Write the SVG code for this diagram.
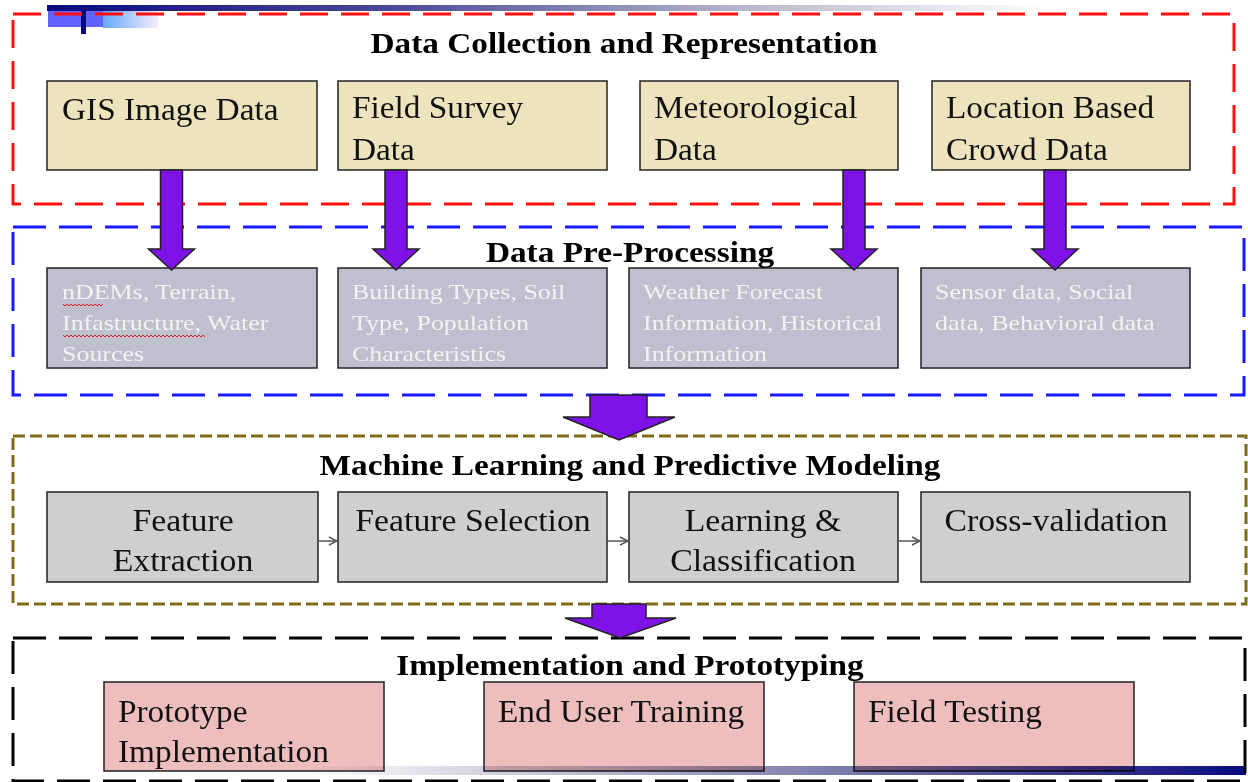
<svg xmlns="http://www.w3.org/2000/svg" width="1248" height="782" viewBox="0 0 1248 782">
<defs>
<style>
.title{font-family:"Liberation Serif","Times New Roman",serif;font-weight:bold;font-size:30px;fill:#000;text-anchor:middle}
.t1{font-family:"Liberation Serif","Times New Roman",serif;font-size:31px;fill:#111}
.t2{font-family:"Liberation Serif","Times New Roman",serif;font-size:22px;fill:#f2f2f2}
.t3{font-family:"Liberation Serif","Times New Roman",serif;font-size:31px;fill:#111;text-anchor:middle}
.tan{fill:#ede3bd;stroke:#222;stroke-width:1.5}
.gp{fill:#bfbfcf;stroke:#222;stroke-width:1.5}
.gr{fill:#cfcfcf;stroke:#222;stroke-width:1.5}
.pk{fill:#eebdbd;stroke:#222;stroke-width:1.5}
.parrow{fill:#7f12e6;stroke:#222;stroke-width:1.5;stroke-linejoin:miter}
.small{fill:none;stroke:#555;stroke-width:1.5}
.squig{fill:none;stroke:#e02020;stroke-width:1}
</style>
<linearGradient id="topbar" x1="0" y1="0" x2="1" y2="0">
<stop offset="0" stop-color="#0a0a80"/>
<stop offset="0.35" stop-color="#4a4a98"/>
<stop offset="0.7" stop-color="#b8b8cc"/>
<stop offset="1" stop-color="#ffffff"/>
</linearGradient>
<linearGradient id="lightblue" x1="0" y1="0" x2="1" y2="0">
<stop offset="0" stop-color="#66a8ff"/>
<stop offset="1" stop-color="#f4eef8"/>
</linearGradient>
<linearGradient id="botbar" x1="0" y1="0" x2="1" y2="0">
<stop offset="0" stop-color="#ffffff"/>
<stop offset="0.35" stop-color="#b0b0c8"/>
<stop offset="0.7" stop-color="#5a5a9a"/>
<stop offset="1" stop-color="#0a0a80"/>
</linearGradient>
<marker id="open" markerWidth="10" markerHeight="10" refX="9" refY="5" orient="auto" markerUnits="userSpaceOnUse">
<path d="M1,1 L9,5 L1,9" fill="none" stroke="#555" stroke-width="1.5"/>
</marker>
</defs>
<rect width="1248" height="782" fill="#fff"/>

<g id="header-deco">
<rect x="47" y="5" width="1000" height="6" fill="url(#topbar)"/>
<rect x="48" y="11" width="55" height="16" fill="#6262ff"/>
<rect x="103" y="11" width="55" height="17" fill="url(#lightblue)"/>
<rect x="81" y="10" width="5" height="24" fill="#0a0a80"/>
</g>

<g id="sections" fill="none">
<rect id="sec-collection" x="13" y="14" width="1221" height="190" stroke="#ff1010" stroke-width="3" stroke-dasharray="28 13"/>
<rect id="sec-preprocessing" x="13" y="227" width="1231" height="168" stroke="#1a1aff" stroke-width="3" stroke-dasharray="33 13"/>
<rect id="sec-ml" x="13" y="436" width="1233" height="168" stroke="#806a18" stroke-width="3" stroke-dasharray="12 5"/>
<rect id="sec-impl" x="13" y="638" width="1232" height="143" stroke="#000" stroke-width="3" stroke-dasharray="33 13"/>
</g>

<g id="titles">
<text class="title" transform="matrix(1.11 0 0 1 624 53)">Data Collection and Representation</text>
<text class="title" transform="matrix(1.11 0 0 1 630 262)">Data Pre-Processing</text>
<text class="title" transform="matrix(1.11 0 0 1 630 475)">Machine Learning and Predictive Modeling</text>
<text class="title" transform="matrix(1.11 0 0 1 630 675)">Implementation and Prototyping</text>
</g>

<g id="gis-image-data"><rect class="tan" x="47" y="81" width="270" height="89"/><text class="t1" transform="matrix(1.075 0 0 1 62 120)">GIS Image Data</text></g>
<g id="field-survey-data"><rect class="tan" x="338" y="81" width="269" height="89"/><text class="t1" transform="matrix(1.075 0 0 1 352 118)">Field Survey</text><text class="t1" transform="matrix(1.075 0 0 1 352 160)">Data</text></g>
<g id="meteorological-data"><rect class="tan" x="640" y="81" width="258" height="89"/><text class="t1" transform="matrix(1.075 0 0 1 654 118)">Meteorological</text><text class="t1" transform="matrix(1.075 0 0 1 654 160)">Data</text></g>
<g id="location-crowd-data"><rect class="tan" x="932" y="81" width="258" height="89"/><text class="t1" transform="matrix(1.075 0 0 1 946 118)">Location Based</text><text class="t1" transform="matrix(1.075 0 0 1 946 160)">Crowd Data</text></g>

<g id="ndems"><rect class="gp" x="47" y="268" width="270" height="100"/>
<text class="t2" transform="matrix(1.18 0 0 1 62 299)">nDEMs, Terrain,</text>
<text class="t2" transform="matrix(1.18 0 0 1 62 330)">Infastructure, Water</text>
<text class="t2" transform="matrix(1.18 0 0 1 62 361)">Sources</text>
<path class="squig" d="M63,304 l2,2 l2,-2 l2,2 l2,-2 l2,2 l2,-2 l2,2 l2,-2 l2,2 l2,-2 l2,2 l2,-2 l2,2 l2,-2 l2,2 l2,-2 l2,2 l2,-2 l2,2 l2,-2"/>
<path class="squig" d="M63,335 l2,2 l2,-2 l2,2 l2,-2 l2,2 l2,-2 l2,2 l2,-2 l2,2 l2,-2 l2,2 l2,-2 l2,2 l2,-2 l2,2 l2,-2 l2,2 l2,-2 l2,2 l2,-2 l2,2 l2,-2 l2,2 l2,-2 l2,2 l2,-2 l2,2 l2,-2 l2,2 l2,-2 l2,2 l2,-2 l2,2 l2,-2 l2,2 l2,-2 l2,2 l2,-2 l2,2 l2,-2 l2,2 l2,-2 l2,2 l2,-2 l2,2 l2,-2 l2,2 l2,-2 l2,2 l2,-2 l2,2 l2,-2 l2,2 l2,-2 l2,2 l2,-2 l2,2 l2,-2 l2,2 l2,-2 l2,2 l2,-2 l2,2 l2,-2 l2,2 l2,-2 l2,2 l2,-2 l2,2 l2,-2 l2,2"/>
</g>
<g id="building-types"><rect class="gp" x="338" y="268" width="269" height="100"/>
<text class="t2" transform="matrix(1.18 0 0 1 352 299)">Building Types, Soil</text>
<text class="t2" transform="matrix(1.18 0 0 1 352 330)">Type, Population</text>
<text class="t2" transform="matrix(1.18 0 0 1 352 361)">Characteristics</text></g>
<g id="weather-forecast"><rect class="gp" x="629" y="268" width="269" height="100"/>
<text class="t2" transform="matrix(1.18 0 0 1 643 299)">Weather Forecast</text>
<text class="t2" transform="matrix(1.18 0 0 1 643 330)">Information, Historical</text>
<text class="t2" transform="matrix(1.18 0 0 1 643 361)">Information</text></g>
<g id="sensor-data"><rect class="gp" x="921" y="268" width="269" height="100"/>
<text class="t2" transform="matrix(1.18 0 0 1 935 299)">Sensor data, Social</text>
<text class="t2" transform="matrix(1.18 0 0 1 935 330)">data, Behavioral data</text></g>

<g id="feature-extraction"><rect class="gr" x="47" y="492" width="271" height="90"/><text class="t3" transform="matrix(1.09 0 0 1 183 531)">Feature</text><text class="t3" transform="matrix(1.09 0 0 1 183 571)">Extraction</text></g>
<g id="feature-selection"><rect class="gr" x="338" y="492" width="269" height="90"/><text class="t3" transform="matrix(1.09 0 0 1 473 531)">Feature Selection</text></g>
<g id="learning-classification"><rect class="gr" x="629" y="492" width="269" height="90"/><text class="t3" transform="matrix(1.09 0 0 1 763 531)">Learning &amp;</text><text class="t3" transform="matrix(1.09 0 0 1 763 571)">Classification</text></g>
<g id="cross-validation"><rect class="gr" x="921" y="492" width="269" height="90"/><text class="t3" transform="matrix(1.09 0 0 1 1056 531)">Cross-validation</text></g>

<g id="prototype-implementation"><rect class="pk" x="104" y="682" width="280" height="89"/><text class="t1" transform="matrix(1.075 0 0 1 118 722)">Prototype</text><text class="t1" transform="matrix(1.075 0 0 1 118 762)">Implementation</text></g>
<g id="end-user-training"><rect class="pk" x="484" y="682" width="280" height="89"/><text class="t1" transform="matrix(1.075 0 0 1 498 722)">End User Training</text></g>
<g id="field-testing"><rect class="pk" x="854" y="682" width="280" height="89"/><text class="t1" transform="matrix(1.075 0 0 1 868 722)">Field Testing</text></g>

<g id="footer-deco">
<rect x="300" y="766" width="946" height="9" fill="url(#botbar)" style="mix-blend-mode:multiply"/>
</g>

<g id="connectors">
<polygon class="parrow" points="160.5,170 182.5,170 182.5,249 194.5,249 171.5,270 148.5,249 160.5,249"/>
<polygon class="parrow" points="385,170 407,170 407,249 419,249 396,270 373,249 385,249"/>
<polygon class="parrow" points="843,170 865,170 865,249 877,249 854,270 831,249 843,249"/>
<polygon class="parrow" points="1044,170 1066,170 1066,249 1078,249 1055,270 1032,249 1044,249"/>
<polygon class="parrow" points="590,395 647,395 647,417 675,417 619,440 563,417 590,417"/>
<polygon class="parrow" points="592,604 646,604 646,618 676,618 620,638 565,618 592,618"/>
<line class="small" x1="318" y1="541" x2="337" y2="541" marker-end="url(#open)"/>
<line class="small" x1="607" y1="541" x2="628" y2="541" marker-end="url(#open)"/>
<line class="small" x1="898" y1="541" x2="920" y2="541" marker-end="url(#open)"/>
</g>
</svg>
